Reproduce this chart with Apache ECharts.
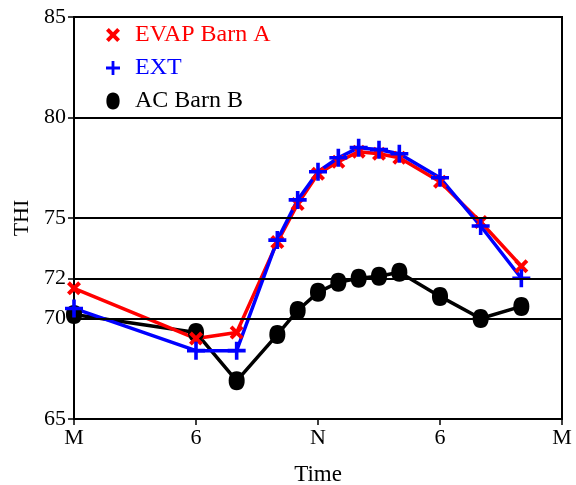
<!DOCTYPE html>
<html><head><meta charset="utf-8">
<script src="https://cdn.jsdelivr.net/npm/echarts@6/dist/echarts.min.js"></script>
<style>html,body{margin:0;padding:0;background:#fff}#c{width:576px;height:485px}</style>
</head><body><div id="c"></div>
<script>
const hours = [0, 6, 8, 10, 11, 12, 13, 14, 15, 16, 18, 20, 22];
const evapBarnA = [71.5, 69.0, 69.3, 73.8, 75.7, 77.2, 77.8, 78.3, 78.2, 78.0, 76.8, 74.8, 72.6];
const ext = [70.5, 68.4, 68.4, 73.9, 75.9, 77.3, 78.0, 78.5, 78.4, 78.2, 77.0, 74.6, 72.0];
const acBarnB = [70.2, 69.3, 66.9, 69.2, 70.4, 71.3, 71.8, 72.0, 72.1, 72.3, 71.1, 70.0, 70.6];
const xTickLabels = {0: 'M', 6: '6', 12: 'N', 18: '6', 24: 'M'};
const yTicks = [65, 70, 72, 75, 80, 85];
const gridLines = [70, 72, 75, 80];

const xPath = 'path://M-5,-3 L-3,-5 L0,-2 L3,-5 L5,-3 L2,0 L5,3 L3,5 L0,2 L-3,5 L-5,3 L-2,0 Z';
const plusPath = 'path://M-1.6,-8 L1.6,-8 L1.6,-1.6 L8,-1.6 L8,1.6 L1.6,1.6 L1.6,8 L-1.6,8 L-1.6,1.6 L-8,1.6 L-8,-1.6 L-1.6,-1.6 Z';
const ellipsePath = 'path://M0,-9 C5,-9 7,-5 7,0 C7,5 5,9 0,9 C-5,9 -7,5 -7,0 C-7,-5 -5,-9 0,-9 Z';
const pair = a => hours.map((h, i) => [h, a[i]]);
const font = 'Liberation Serif';

const chart = echarts.init(document.getElementById('c'));
chart.setOption({
  animation: false,
  textStyle: {fontFamily: font},
  grid: {left: 74, right: 14, top: 17, bottom: 66, show: true, borderColor: '#000', borderWidth: 2,
    backgroundColor: 'transparent', containLabel: false, outerBoundsMode: 'none'},
  legend: {
    orient: 'vertical', left: 101, top: 18, itemGap: 9, itemWidth: 14, itemHeight: 17,
    textStyle: {fontFamily: font, fontSize: 24, padding: [0, 0, 0, 10]},
    data: [
      {name: 'EVAP Barn A', icon: xPath, textStyle: {color: '#ff0000'}},
      {name: 'EXT', icon: plusPath, textStyle: {color: '#0000ff'}},
      {name: 'AC Barn B', icon: ellipsePath, textStyle: {color: '#000'}}
    ]
  },
  xAxis: {
    type: 'value', min: 0, max: 24, interval: 6,
    name: 'Time', nameLocation: 'middle', nameGap: 44,
    nameTextStyle: {fontFamily: font, fontSize: 23, color: '#000'},
    axisLine: {lineStyle: {color: '#000', width: 2}},
    axisTick: {length: 6, lineStyle: {color: '#000', width: 1.5}},
    axisLabel: {fontFamily: font, fontSize: 22, color: '#000', margin: 8, formatter: v => xTickLabels[v] ?? ''},
    splitLine: {show: false}
  },
  yAxis: {
    type: 'value', min: 65, max: 85,
    name: 'THI', nameLocation: 'middle', nameGap: 33, nameRotate: 90,
    nameTextStyle: {fontFamily: font, fontSize: 22, color: '#000'},
    axisLine: {show: true, lineStyle: {color: '#000', width: 2}},
    axisTick: {show: true, length: 6, customValues: yTicks, lineStyle: {color: '#000', width: 1.5}},
    axisLabel: {fontFamily: font, fontSize: 22, color: '#000', margin: 8, customValues: yTicks},
    splitLine: {show: false}
  },
  series: [
    {
      name: 'AC Barn B', type: 'line', data: pair(acBarnB),
      symbol: ellipsePath, symbolSize: [16, 19],
      lineStyle: {color: '#000', width: 3.5}, itemStyle: {color: '#000'},
      markLine: {silent: true, symbol: 'none', label: {show: false},
        lineStyle: {color: '#000', width: 2, type: 'solid'},
        data: gridLines.map(v => ({yAxis: v}))}
    },
    {
      name: 'EVAP Barn A', type: 'line', data: pair(evapBarnA),
      symbol: xPath, symbolSize: 14,
      lineStyle: {color: '#ff0000', width: 3.5}, itemStyle: {color: '#ff0000'}
    },
    {
      name: 'EXT', type: 'line', data: pair(ext),
      symbol: plusPath, symbolSize: 18,
      lineStyle: {color: '#0000ff', width: 3.5}, itemStyle: {color: '#0000ff'}
    }
  ]
});
</script></body></html>
